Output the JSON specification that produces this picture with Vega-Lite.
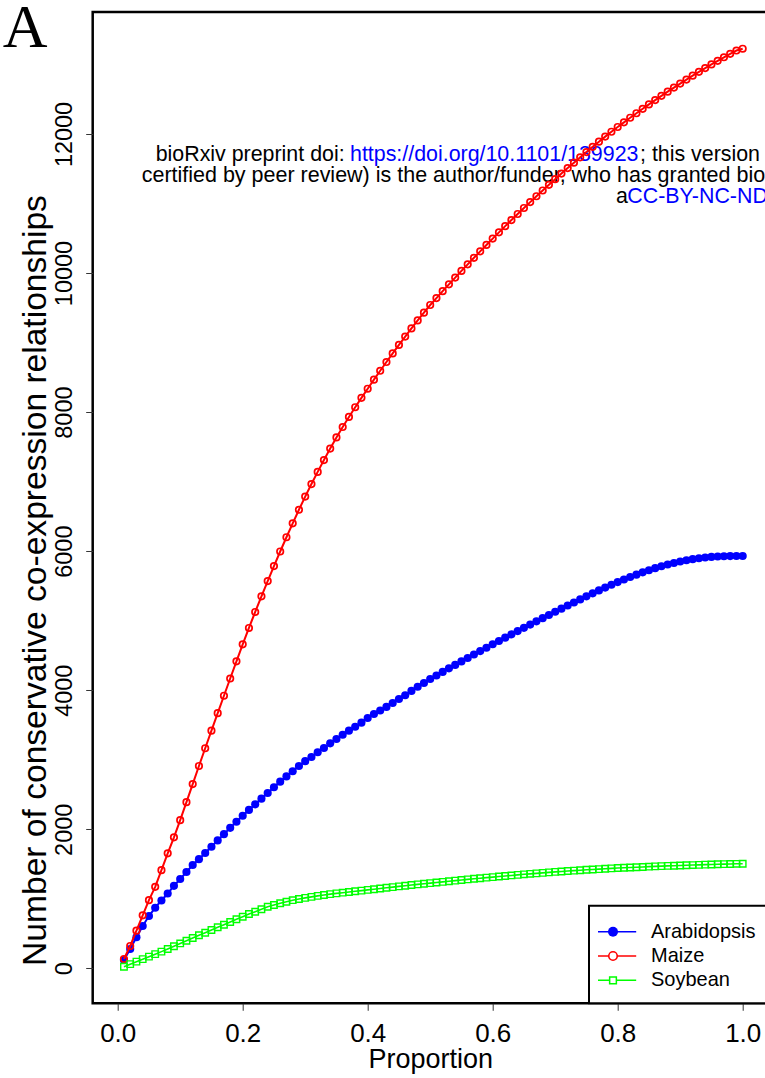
{
  "$schema": "https://vega.github.io/schema/vega-lite/v6.json",
  "autosize": {"type": "none"},
  "padding": {"left": 92.7, "top": 12, "right": 0, "bottom": 74.7},
  "width": 675,
  "height": 991.3,
  "background": "white",
  "config": {
    "view": {"stroke": "black", "strokeWidth": 2.5},
    "font": "Liberation Sans",
    "axis": {"grid": false, "domain": false, "tickColor": "#333333", "tickWidth": 1, "tickSize": 7, "labelColor": "black", "titleColor": "black", "labelFont": "Liberation Sans", "titleFont": "Liberation Sans", "titleFontWeight": "normal"}
  },
  "datasets": {
    "curves": [
{"species":"Arabidopsis","proportion":0.01,"count":119},{"species":"Arabidopsis","proportion":0.02,"count":278},{"species":"Arabidopsis","proportion":0.03,"count":446},{"species":"Arabidopsis","proportion":0.04,"count":608},{"species":"Arabidopsis","proportion":0.05,"count":752},{"species":"Arabidopsis","proportion":0.06,"count":872},{"species":"Arabidopsis","proportion":0.07,"count":975},{"species":"Arabidopsis","proportion":0.08,"count":1076},{"species":"Arabidopsis","proportion":0.09,"count":1186},{"species":"Arabidopsis","proportion":0.10,"count":1284},
{"species":"Arabidopsis","proportion":0.11,"count":1385},{"species":"Arabidopsis","proportion":0.12,"count":1486},{"species":"Arabidopsis","proportion":0.13,"count":1570},{"species":"Arabidopsis","proportion":0.14,"count":1658},{"species":"Arabidopsis","proportion":0.15,"count":1748},{"species":"Arabidopsis","proportion":0.16,"count":1840},{"species":"Arabidopsis","proportion":0.17,"count":1930},{"species":"Arabidopsis","proportion":0.18,"count":2020},{"species":"Arabidopsis","proportion":0.19,"count":2108},{"species":"Arabidopsis","proportion":0.20,"count":2195},
{"species":"Arabidopsis","proportion":0.21,"count":2278},{"species":"Arabidopsis","proportion":0.22,"count":2358},{"species":"Arabidopsis","proportion":0.23,"count":2440},{"species":"Arabidopsis","proportion":0.24,"count":2522},{"species":"Arabidopsis","proportion":0.25,"count":2605},{"species":"Arabidopsis","proportion":0.26,"count":2685},{"species":"Arabidopsis","proportion":0.27,"count":2760},{"species":"Arabidopsis","proportion":0.28,"count":2835},{"species":"Arabidopsis","proportion":0.29,"count":2910},{"species":"Arabidopsis","proportion":0.30,"count":2980},
{"species":"Arabidopsis","proportion":0.31,"count":3039},{"species":"Arabidopsis","proportion":0.32,"count":3107},{"species":"Arabidopsis","proportion":0.33,"count":3169},{"species":"Arabidopsis","proportion":0.34,"count":3236},{"species":"Arabidopsis","proportion":0.35,"count":3298},{"species":"Arabidopsis","proportion":0.36,"count":3360},{"species":"Arabidopsis","proportion":0.37,"count":3418},{"species":"Arabidopsis","proportion":0.38,"count":3475},{"species":"Arabidopsis","proportion":0.39,"count":3533},{"species":"Arabidopsis","proportion":0.40,"count":3600},
{"species":"Arabidopsis","proportion":0.41,"count":3658},{"species":"Arabidopsis","proportion":0.42,"count":3708},{"species":"Arabidopsis","proportion":0.43,"count":3760},{"species":"Arabidopsis","proportion":0.44,"count":3816},{"species":"Arabidopsis","proportion":0.45,"count":3873},{"species":"Arabidopsis","proportion":0.46,"count":3928},{"species":"Arabidopsis","proportion":0.47,"count":3990},{"species":"Arabidopsis","proportion":0.48,"count":4050},{"species":"Arabidopsis","proportion":0.49,"count":4103},{"species":"Arabidopsis","proportion":0.50,"count":4161},
{"species":"Arabidopsis","proportion":0.51,"count":4212},{"species":"Arabidopsis","proportion":0.52,"count":4263},{"species":"Arabidopsis","proportion":0.53,"count":4314},{"species":"Arabidopsis","proportion":0.54,"count":4364},{"species":"Arabidopsis","proportion":0.55,"count":4414},{"species":"Arabidopsis","proportion":0.56,"count":4464},{"species":"Arabidopsis","proportion":0.57,"count":4513},{"species":"Arabidopsis","proportion":0.58,"count":4562},{"species":"Arabidopsis","proportion":0.59,"count":4611},{"species":"Arabidopsis","proportion":0.60,"count":4660},
{"species":"Arabidopsis","proportion":0.61,"count":4708},{"species":"Arabidopsis","proportion":0.62,"count":4756},{"species":"Arabidopsis","proportion":0.63,"count":4803},{"species":"Arabidopsis","proportion":0.64,"count":4850},{"species":"Arabidopsis","proportion":0.65,"count":4897},{"species":"Arabidopsis","proportion":0.66,"count":4944},{"species":"Arabidopsis","proportion":0.67,"count":4990},{"species":"Arabidopsis","proportion":0.68,"count":5036},{"species":"Arabidopsis","proportion":0.69,"count":5082},{"species":"Arabidopsis","proportion":0.70,"count":5128},
{"species":"Arabidopsis","proportion":0.71,"count":5173},{"species":"Arabidopsis","proportion":0.72,"count":5218},{"species":"Arabidopsis","proportion":0.73,"count":5262},{"species":"Arabidopsis","proportion":0.74,"count":5306},{"species":"Arabidopsis","proportion":0.75,"count":5350},{"species":"Arabidopsis","proportion":0.76,"count":5393},{"species":"Arabidopsis","proportion":0.77,"count":5435},{"species":"Arabidopsis","proportion":0.78,"count":5476},{"species":"Arabidopsis","proportion":0.79,"count":5516},{"species":"Arabidopsis","proportion":0.80,"count":5555},
{"species":"Arabidopsis","proportion":0.81,"count":5592},{"species":"Arabidopsis","proportion":0.82,"count":5628},{"species":"Arabidopsis","proportion":0.83,"count":5662},{"species":"Arabidopsis","proportion":0.84,"count":5695},{"species":"Arabidopsis","proportion":0.85,"count":5726},{"species":"Arabidopsis","proportion":0.86,"count":5755},{"species":"Arabidopsis","proportion":0.87,"count":5782},{"species":"Arabidopsis","proportion":0.88,"count":5807},{"species":"Arabidopsis","proportion":0.89,"count":5830},{"species":"Arabidopsis","proportion":0.90,"count":5851},
{"species":"Arabidopsis","proportion":0.91,"count":5869},{"species":"Arabidopsis","proportion":0.92,"count":5885},{"species":"Arabidopsis","proportion":0.93,"count":5898},{"species":"Arabidopsis","proportion":0.94,"count":5909},{"species":"Arabidopsis","proportion":0.95,"count":5917},{"species":"Arabidopsis","proportion":0.96,"count":5923},{"species":"Arabidopsis","proportion":0.97,"count":5927},{"species":"Arabidopsis","proportion":0.98,"count":5929},{"species":"Arabidopsis","proportion":0.99,"count":5930},{"species":"Arabidopsis","proportion":1.00,"count":5931},
{"species":"Maize","proportion":0.01,"count":134},{"species":"Maize","proportion":0.02,"count":321},{"species":"Maize","proportion":0.03,"count":542},{"species":"Maize","proportion":0.04,"count":762},{"species":"Maize","proportion":0.05,"count":980},{"species":"Maize","proportion":0.06,"count":1172},{"species":"Maize","proportion":0.07,"count":1412},{"species":"Maize","proportion":0.08,"count":1654},{"species":"Maize","proportion":0.09,"count":1884},{"species":"Maize","proportion":0.10,"count":2131},
{"species":"Maize","proportion":0.11,"count":2390},{"species":"Maize","proportion":0.12,"count":2650},{"species":"Maize","proportion":0.13,"count":2910},{"species":"Maize","proportion":0.14,"count":3165},{"species":"Maize","proportion":0.15,"count":3418},{"species":"Maize","proportion":0.16,"count":3670},{"species":"Maize","proportion":0.17,"count":3920},{"species":"Maize","proportion":0.18,"count":4168},{"species":"Maize","proportion":0.19,"count":4415},{"species":"Maize","proportion":0.20,"count":4660},
{"species":"Maize","proportion":0.21,"count":4895},{"species":"Maize","proportion":0.22,"count":5125},{"species":"Maize","proportion":0.23,"count":5350},{"species":"Maize","proportion":0.24,"count":5570},{"species":"Maize","proportion":0.25,"count":5785},{"species":"Maize","proportion":0.26,"count":5995},{"species":"Maize","proportion":0.27,"count":6200},{"species":"Maize","proportion":0.28,"count":6400},{"species":"Maize","proportion":0.29,"count":6595},{"species":"Maize","proportion":0.30,"count":6785},
{"species":"Maize","proportion":0.31,"count":6965},{"species":"Maize","proportion":0.32,"count":7140},{"species":"Maize","proportion":0.33,"count":7310},{"species":"Maize","proportion":0.34,"count":7475},{"species":"Maize","proportion":0.35,"count":7635},{"species":"Maize","proportion":0.36,"count":7785},{"species":"Maize","proportion":0.37,"count":7930},{"species":"Maize","proportion":0.38,"count":8070},{"species":"Maize","proportion":0.39,"count":8205},{"species":"Maize","proportion":0.40,"count":8336},
{"species":"Maize","proportion":0.41,"count":8466},{"species":"Maize","proportion":0.42,"count":8594},{"species":"Maize","proportion":0.43,"count":8720},{"species":"Maize","proportion":0.44,"count":8844},{"species":"Maize","proportion":0.45,"count":8966},{"species":"Maize","proportion":0.46,"count":9086},{"species":"Maize","proportion":0.47,"count":9203},{"species":"Maize","proportion":0.48,"count":9318},{"species":"Maize","proportion":0.49,"count":9430},{"species":"Maize","proportion":0.50,"count":9540},
{"species":"Maize","proportion":0.51,"count":9640},{"species":"Maize","proportion":0.52,"count":9739},{"species":"Maize","proportion":0.53,"count":9837},{"species":"Maize","proportion":0.54,"count":9934},{"species":"Maize","proportion":0.55,"count":10030},{"species":"Maize","proportion":0.56,"count":10125},{"species":"Maize","proportion":0.57,"count":10219},{"species":"Maize","proportion":0.58,"count":10312},{"species":"Maize","proportion":0.59,"count":10404},{"species":"Maize","proportion":0.60,"count":10495},
{"species":"Maize","proportion":0.61,"count":10585},{"species":"Maize","proportion":0.62,"count":10674},{"species":"Maize","proportion":0.63,"count":10762},{"species":"Maize","proportion":0.64,"count":10849},{"species":"Maize","proportion":0.65,"count":10935},{"species":"Maize","proportion":0.66,"count":11020},{"species":"Maize","proportion":0.67,"count":11104},{"species":"Maize","proportion":0.68,"count":11187},{"species":"Maize","proportion":0.69,"count":11269},{"species":"Maize","proportion":0.70,"count":11350},
{"species":"Maize","proportion":0.71,"count":11430},{"species":"Maize","proportion":0.72,"count":11509},{"species":"Maize","proportion":0.73,"count":11587},{"species":"Maize","proportion":0.74,"count":11664},{"species":"Maize","proportion":0.75,"count":11740},{"species":"Maize","proportion":0.76,"count":11815},{"species":"Maize","proportion":0.77,"count":11889},{"species":"Maize","proportion":0.78,"count":11962},{"species":"Maize","proportion":0.79,"count":12032},{"species":"Maize","proportion":0.80,"count":12100},
{"species":"Maize","proportion":0.81,"count":12167},{"species":"Maize","proportion":0.82,"count":12233},{"species":"Maize","proportion":0.83,"count":12298},{"species":"Maize","proportion":0.84,"count":12362},{"species":"Maize","proportion":0.85,"count":12425},{"species":"Maize","proportion":0.86,"count":12487},{"species":"Maize","proportion":0.87,"count":12548},{"species":"Maize","proportion":0.88,"count":12608},{"species":"Maize","proportion":0.89,"count":12667},{"species":"Maize","proportion":0.90,"count":12725},
{"species":"Maize","proportion":0.91,"count":12782},{"species":"Maize","proportion":0.92,"count":12838},{"species":"Maize","proportion":0.93,"count":12893},{"species":"Maize","proportion":0.94,"count":12947},{"species":"Maize","proportion":0.95,"count":13000},{"species":"Maize","proportion":0.96,"count":13052},{"species":"Maize","proportion":0.97,"count":13103},{"species":"Maize","proportion":0.98,"count":13153},{"species":"Maize","proportion":0.99,"count":13200},{"species":"Maize","proportion":1.00,"count":13226},
{"species":"Soybean","proportion":0.01,"count":23},{"species":"Soybean","proportion":0.02,"count":60},{"species":"Soybean","proportion":0.03,"count":96},{"species":"Soybean","proportion":0.04,"count":132},{"species":"Soybean","proportion":0.05,"count":168},{"species":"Soybean","proportion":0.06,"count":204},{"species":"Soybean","proportion":0.07,"count":240},{"species":"Soybean","proportion":0.08,"count":278},{"species":"Soybean","proportion":0.09,"count":318},{"species":"Soybean","proportion":0.10,"count":358},
{"species":"Soybean","proportion":0.11,"count":397},{"species":"Soybean","proportion":0.12,"count":436},{"species":"Soybean","proportion":0.13,"count":475},{"species":"Soybean","proportion":0.14,"count":512},{"species":"Soybean","proportion":0.15,"count":551},{"species":"Soybean","proportion":0.16,"count":590},{"species":"Soybean","proportion":0.17,"count":627},{"species":"Soybean","proportion":0.18,"count":666},{"species":"Soybean","proportion":0.19,"count":705},{"species":"Soybean","proportion":0.20,"count":742},
{"species":"Soybean","proportion":0.21,"count":781},{"species":"Soybean","proportion":0.22,"count":814},{"species":"Soybean","proportion":0.23,"count":849},{"species":"Soybean","proportion":0.24,"count":886},{"species":"Soybean","proportion":0.25,"count":910},{"species":"Soybean","proportion":0.26,"count":935},{"species":"Soybean","proportion":0.27,"count":958},{"species":"Soybean","proportion":0.28,"count":980},{"species":"Soybean","proportion":0.29,"count":997},{"species":"Soybean","proportion":0.30,"count":1013},
{"species":"Soybean","proportion":0.31,"count":1028},{"species":"Soybean","proportion":0.32,"count":1042},{"species":"Soybean","proportion":0.33,"count":1055},{"species":"Soybean","proportion":0.34,"count":1067},{"species":"Soybean","proportion":0.35,"count":1078},{"species":"Soybean","proportion":0.36,"count":1088},{"species":"Soybean","proportion":0.37,"count":1098},{"species":"Soybean","proportion":0.38,"count":1108},{"species":"Soybean","proportion":0.39,"count":1118},{"species":"Soybean","proportion":0.40,"count":1128},
{"species":"Soybean","proportion":0.41,"count":1138},{"species":"Soybean","proportion":0.42,"count":1148},{"species":"Soybean","proportion":0.43,"count":1158},{"species":"Soybean","proportion":0.44,"count":1168},{"species":"Soybean","proportion":0.45,"count":1178},{"species":"Soybean","proportion":0.46,"count":1188},{"species":"Soybean","proportion":0.47,"count":1198},{"species":"Soybean","proportion":0.48,"count":1207},{"species":"Soybean","proportion":0.49,"count":1216},{"species":"Soybean","proportion":0.50,"count":1225},
{"species":"Soybean","proportion":0.51,"count":1234},{"species":"Soybean","proportion":0.52,"count":1243},{"species":"Soybean","proportion":0.53,"count":1252},{"species":"Soybean","proportion":0.54,"count":1261},{"species":"Soybean","proportion":0.55,"count":1270},{"species":"Soybean","proportion":0.56,"count":1279},{"species":"Soybean","proportion":0.57,"count":1288},{"species":"Soybean","proportion":0.58,"count":1296},{"species":"Soybean","proportion":0.59,"count":1304},{"species":"Soybean","proportion":0.60,"count":1312},
{"species":"Soybean","proportion":0.61,"count":1320},{"species":"Soybean","proportion":0.62,"count":1328},{"species":"Soybean","proportion":0.63,"count":1336},{"species":"Soybean","proportion":0.64,"count":1344},{"species":"Soybean","proportion":0.65,"count":1352},{"species":"Soybean","proportion":0.66,"count":1359},{"species":"Soybean","proportion":0.67,"count":1366},{"species":"Soybean","proportion":0.68,"count":1373},{"species":"Soybean","proportion":0.69,"count":1380},{"species":"Soybean","proportion":0.70,"count":1387},
{"species":"Soybean","proportion":0.71,"count":1393},{"species":"Soybean","proportion":0.72,"count":1399},{"species":"Soybean","proportion":0.73,"count":1405},{"species":"Soybean","proportion":0.74,"count":1411},{"species":"Soybean","proportion":0.75,"count":1417},{"species":"Soybean","proportion":0.76,"count":1422},{"species":"Soybean","proportion":0.77,"count":1427},{"species":"Soybean","proportion":0.78,"count":1432},{"species":"Soybean","proportion":0.79,"count":1437},{"species":"Soybean","proportion":0.80,"count":1442},
{"species":"Soybean","proportion":0.81,"count":1446},{"species":"Soybean","proportion":0.82,"count":1450},{"species":"Soybean","proportion":0.83,"count":1454},{"species":"Soybean","proportion":0.84,"count":1458},{"species":"Soybean","proportion":0.85,"count":1462},{"species":"Soybean","proportion":0.86,"count":1466},{"species":"Soybean","proportion":0.87,"count":1470},{"species":"Soybean","proportion":0.88,"count":1473},{"species":"Soybean","proportion":0.89,"count":1476},{"species":"Soybean","proportion":0.90,"count":1479},
{"species":"Soybean","proportion":0.91,"count":1482},{"species":"Soybean","proportion":0.92,"count":1485},{"species":"Soybean","proportion":0.93,"count":1488},{"species":"Soybean","proportion":0.94,"count":1491},{"species":"Soybean","proportion":0.95,"count":1494},{"species":"Soybean","proportion":0.96,"count":1497},{"species":"Soybean","proportion":0.97,"count":1499},{"species":"Soybean","proportion":0.98,"count":1501},{"species":"Soybean","proportion":0.99,"count":1503},{"species":"Soybean","proportion":1.00,"count":1504}
    ],
    "one": [{}],
    "keyA": [{"species": "Arabidopsis"}],
    "keyM": [{"species": "Maize"}],
    "keyS": [{"species": "Soybean"}],
    "panel": [{"t": "A"}],
    "note1": [{"t": "bioRxiv preprint doi: "}],
    "note2": [{"t": "https://doi.org/10.1101/139923"}],
    "note3": [{"t": "; this version posted May 19, 2017. The copyright holder for this preprint (which was not"}],
    "note4": [{"t": "certified by peer review) is the author/funder, who has granted bioRxiv a license to display the preprint in perpetuity. It is made"}],
    "note5": [{"t": "a"}],
    "note6": [{"t": "CC-BY-NC-ND 4.0 International license"}]
  },
  "layer": [
    {"data": {"name": "panel"}, "mark": {"type": "text", "align": "left", "baseline": "alphabetic", "font": "Liberation Serif", "fontSize": 62, "fill": "black"},
      "encoding": {"x": {"datum": -0.184}, "y": {"datum": 13250}, "text": {"field": "t"}}},
    {"data": {"name": "note1"}, "mark": {"type": "text", "align": "left", "baseline": "alphabetic", "font": "Liberation Sans", "fontSize": 21.4, "fill": "black"},
      "encoding": {"x": {"datum": 0.0608}, "y": {"datum": 11611}, "text": {"field": "t"}}},
    {"data": {"name": "note2"}, "mark": {"type": "text", "align": "left", "baseline": "alphabetic", "font": "Liberation Sans", "fontSize": 21.4, "fill": "#0000ff"},
      "encoding": {"x": {"datum": 0.3717}, "y": {"datum": 11611}, "text": {"field": "t"}}},
    {"data": {"name": "note3"}, "mark": {"type": "text", "align": "left", "baseline": "alphabetic", "font": "Liberation Sans", "fontSize": 21.4, "fill": "black"},
      "encoding": {"x": {"datum": 0.8357}, "y": {"datum": 11611}, "text": {"field": "t"}}},
    {"data": {"name": "note4"}, "mark": {"type": "text", "align": "left", "baseline": "alphabetic", "font": "Liberation Sans", "fontSize": 21.5, "fill": "black"},
      "encoding": {"x": {"datum": 0.0384}, "y": {"datum": 11314}, "text": {"field": "t"}}},
    {"data": {"name": "note5"}, "mark": {"type": "text", "align": "left", "baseline": "alphabetic", "font": "Liberation Sans", "fontSize": 21.4, "fill": "black"},
      "encoding": {"x": {"datum": 0.7973}, "y": {"datum": 11014}, "text": {"field": "t"}}},
    {"data": {"name": "note6"}, "mark": {"type": "text", "align": "left", "baseline": "alphabetic", "font": "Liberation Sans", "fontSize": 21.4, "fill": "#0000ff"},
      "encoding": {"x": {"datum": 0.8154}, "y": {"datum": 11014}, "text": {"field": "t"}}},
    {"data": {"name": "curves"}, "transform": [{"filter": "datum.species === 'Arabidopsis'"}], "mark": {"type": "line", "strokeWidth": 2},
      "encoding": {
        "x": {"field": "proportion", "type": "quantitative", "scale": {"domain": [-0.04, 1.04], "nice": false, "zero": false},
          "axis": {"title": "Proportion", "values": [0, 0.2, 0.4, 0.6, 0.8, 1.0], "format": ".1f", "labelFontSize": 26, "labelBaseline": "alphabetic", "labelPadding": 31.7, "labelFlush": false, "titleFontSize": 27, "titleBaseline": "alphabetic", "titleY": 64}},
        "y": {"field": "count", "type": "quantitative", "scale": {"domain": [-503, 13754], "nice": false, "zero": false},
          "axis": {"title": "Number of conservative co-expression relationships", "values": [0, 2000, 4000, 6000, 8000, 10000, 12000], "format": "d", "labelFontSize": 23.5, "labelAngle": 270, "labelAlign": "center", "labelBaseline": "alphabetic", "labelPadding": 13.7, "labelFlush": false, "titleFontSize": 33.6, "titleAngle": 270, "titleAlign": "center", "titleBaseline": "alphabetic", "titleX": -46.7, "titleY": 568}},
        "color": {"field": "species", "type": "nominal", "scale": {"domain": ["Arabidopsis", "Maize", "Soybean"], "range": ["#0000ff", "#ff0000", "#00ff00"]}, "legend": null}}},
    {"data": {"name": "curves"}, "transform": [{"filter": "datum.species === 'Arabidopsis'"}], "mark": {"type": "point", "shape": "circle", "filled": true, "size": 66, "opacity": 1},
      "encoding": {"x": {"field": "proportion", "type": "quantitative"}, "y": {"field": "count", "type": "quantitative"}, "color": {"field": "species", "type": "nominal", "legend": null}}},
    {"data": {"name": "curves"}, "transform": [{"filter": "datum.species === 'Maize'"}], "mark": {"type": "line", "strokeWidth": 2},
      "encoding": {"x": {"field": "proportion", "type": "quantitative"}, "y": {"field": "count", "type": "quantitative"}, "color": {"field": "species", "type": "nominal", "legend": null}}},
    {"data": {"name": "curves"}, "transform": [{"filter": "datum.species === 'Maize'"}], "mark": {"type": "point", "shape": "circle", "filled": false, "size": 42, "strokeWidth": 1.7, "opacity": 1},
      "encoding": {"x": {"field": "proportion", "type": "quantitative"}, "y": {"field": "count", "type": "quantitative"}, "color": {"field": "species", "type": "nominal", "legend": null}}},
    {"data": {"name": "curves"}, "transform": [{"filter": "datum.species === 'Soybean'"}], "mark": {"type": "line", "strokeWidth": 1.6},
      "encoding": {"x": {"field": "proportion", "type": "quantitative"}, "y": {"field": "count", "type": "quantitative"}, "color": {"field": "species", "type": "nominal", "legend": null}}},
    {"data": {"name": "curves"}, "transform": [{"filter": "datum.species === 'Soybean'"}], "mark": {"type": "point", "shape": "square", "filled": false, "size": 42, "strokeWidth": 1.4, "opacity": 1},
      "encoding": {"x": {"field": "proportion", "type": "quantitative"}, "y": {"field": "count", "type": "quantitative"}, "color": {"field": "species", "type": "nominal", "legend": null}}},
    {"data": {"name": "one"}, "mark": {"type": "rect", "fill": "white", "stroke": "black", "strokeWidth": 2},
      "encoding": {"x": {"datum": 0.7541}, "x2": {"datum": 1.07}, "y": {"datum": 900.4}, "y2": {"datum": -503}}},
    {"data": {"name": "keyA"}, "mark": {"type": "rule", "strokeWidth": 1.5},
      "encoding": {"x": {"datum": 0.7685}, "x2": {"datum": 0.8296}, "y": {"datum": 526.4}, "color": {"field": "species", "type": "nominal", "legend": null}}},
    {"data": {"name": "keyA"}, "mark": {"type": "point", "shape": "circle", "filled": true, "size": 100, "opacity": 1},
      "encoding": {"x": {"datum": 0.7925}, "y": {"datum": 526.4}, "color": {"field": "species", "type": "nominal", "legend": null}}},
    {"data": {"name": "keyA"}, "mark": {"type": "text", "align": "left", "baseline": "alphabetic", "font": "Liberation Sans", "fontSize": 20, "fill": "black"},
      "encoding": {"x": {"datum": 0.8533}, "y": {"datum": 440}, "text": {"field": "species"}}},
    {"data": {"name": "keyM"}, "mark": {"type": "rule", "strokeWidth": 1.5},
      "encoding": {"x": {"datum": 0.7685}, "x2": {"datum": 0.8296}, "y": {"datum": 177}, "color": {"field": "species", "type": "nominal", "legend": null}}},
    {"data": {"name": "keyM"}, "mark": {"type": "point", "shape": "circle", "filled": false, "size": 72, "strokeWidth": 1.6, "fill": "white", "opacity": 1},
      "encoding": {"x": {"datum": 0.7925}, "y": {"datum": 177}, "color": {"field": "species", "type": "nominal", "legend": null}}},
    {"data": {"name": "keyM"}, "mark": {"type": "text", "align": "left", "baseline": "alphabetic", "font": "Liberation Sans", "fontSize": 20, "fill": "black"},
      "encoding": {"x": {"datum": 0.8533}, "y": {"datum": 90.6}, "text": {"field": "species"}}},
    {"data": {"name": "keyS"}, "mark": {"type": "rule", "strokeWidth": 1.5},
      "encoding": {"x": {"datum": 0.7685}, "x2": {"datum": 0.8296}, "y": {"datum": -172.6}, "color": {"field": "species", "type": "nominal", "legend": null}}},
    {"data": {"name": "keyS"}, "mark": {"type": "point", "shape": "square", "filled": false, "size": 45, "strokeWidth": 1.5, "fill": "white", "opacity": 1},
      "encoding": {"x": {"datum": 0.7925}, "y": {"datum": -172.6}, "color": {"field": "species", "type": "nominal", "legend": null}}},
    {"data": {"name": "keyS"}, "mark": {"type": "text", "align": "left", "baseline": "alphabetic", "font": "Liberation Sans", "fontSize": 20, "fill": "black"},
      "encoding": {"x": {"datum": 0.8533}, "y": {"datum": -258.9}, "text": {"field": "species"}}}
  ]
}
